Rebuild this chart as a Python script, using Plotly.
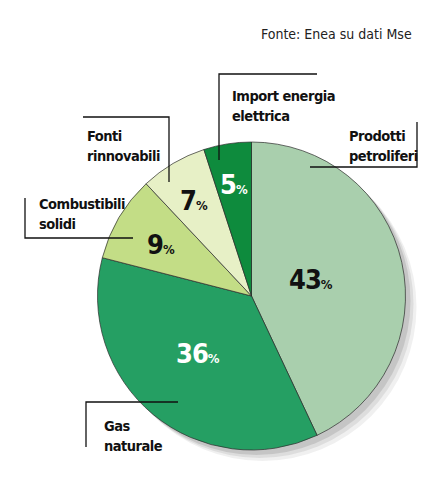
import plotly.graph_objects as go

# dati (Fonte: Enea su dati Mse)
fonti = ["Prodotti<br>petroliferi", "Gas<br>naturale", "Combustibili<br>solidi",
         "Fonti<br>rinnovabili", "Import energia<br>elettrica"]
quote = [43, 36, 9, 7, 5]
colori = ["#a9cfad", "#259f63", "#c3dd86", "#e7f0c6", "#0e8b3d"]
colori_testo = ["#111111", "#ffffff", "#111111", "#111111", "#ffffff"]

# la pagina html ha un margine di 8px attorno al grafico
OFF = 8
W, H = 431 - OFF, 480 - OFF
FONT = "DejaVu Sans Condensed, Roboto, sans-serif"


def px(x):
    return (x - OFF) / W


def py(y):
    return 1 - (y - OFF) / H


fig = go.Figure()

# ombra del disco (pie grigie sfalsate)
for d, a in [(11, 0.08), (8, 0.10), (5, 0.14)]:
    fig.add_trace(go.Pie(
        values=[sum(quote)], sort=False, textinfo="none", hoverinfo="skip",
        showlegend=False, marker=dict(colors=[f"rgba(60,60,60,{a})"], line=dict(width=0)),
        domain=dict(x=[px(97 + d), px(406 + d)], y=[py(450 + d), py(142 + d)]),
    ))

fig.add_trace(go.Pie(
    labels=fonti, values=quote, sort=False, direction="clockwise", rotation=0,
    marker=dict(colors=colori, line=dict(color="#2b2b2b", width=0.7)),
    textinfo="none", hoverinfo="label+percent", showlegend=False,
    domain=dict(x=[px(97), px(406)], y=[py(450), py(142)]),
))

# linee dei richiami (pixel)
richiami = [
    [(417, 122), (417, 167), (310, 167)],
    [(86, 447), (86, 402), (178, 402)],
    [(25, 198), (25, 238), (133, 238)],
    [(83, 117), (169, 117), (169, 182)],
    [(317, 74), (219, 74), (219, 160)],
]
shapes = []
for pts in richiami:
    path = "M " + " L ".join(f"{px(a)},{py(b)}" for a, b in pts)
    shapes.append(dict(type="path", xref="paper", yref="paper", path=path,
                       line=dict(color="#111111", width=1.3)))

# posizioni delle etichette (baseline della prima riga)
pos_nomi = [(347, 142), (102, 432), (37, 210), (85, 142), (230, 102)]
pos_perc = [(311, 279), (198, 353), (161, 244), (194, 200), (234, 184)]

ann = []
for nome, (x, y) in zip(fonti, pos_nomi):
    for k, riga in enumerate(nome.split("<br>")):
        ann.append(dict(x=px(x), y=py(y + 4 + 20 * k), xref="paper", yref="paper",
                        text=f"<span style='letter-spacing:-0.5px'>{riga}</span>",
                        showarrow=False, xanchor="left", yanchor="bottom", align="left",
                        font=dict(family=FONT, size=14.5, color="#111111", weight="bold")))
for q, c, (x, y) in zip(quote, colori_testo, pos_perc):
    ann.append(dict(x=px(x), y=py(y), xref="paper", yref="paper",
                    text=f"<b><span style='letter-spacing:-1px'>{q}</span>"
                         f"<span style='font-size:13px'>%</span></b>",
                    showarrow=False, xanchor="center", yanchor="middle",
                    font=dict(family=FONT, size=27, color=c)))
ann.append(dict(x=px(414), y=py(34), xref="paper", yref="paper",
                text="Fonte: Enea su dati Mse", showarrow=False,
                xanchor="right", yanchor="middle",
                font=dict(family=FONT, size=14, color="#222222")))

fig.update_layout(
    width=W, height=H, margin=dict(l=0, r=0, t=0, b=0),
    paper_bgcolor="white", plot_bgcolor="white",
    shapes=shapes, annotations=ann,
)

fig.write_html("out.html")
